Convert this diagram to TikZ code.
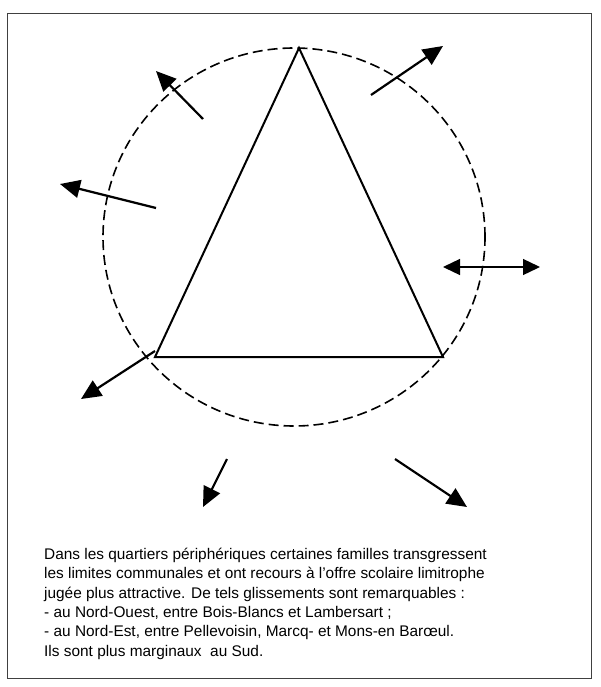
\documentclass[tikz,border=0pt]{standalone}
\usepackage{fontspec}
\setmainfont{Liberation Sans}
\usetikzlibrary{arrows.meta}
\begin{document}
\begin{tikzpicture}[x=1pt,y=-1pt,
  frame/.style={draw=black!75,line width=0.9pt},
  zone/.style={draw=black,line width=1.6pt,dash pattern=on 10pt off 5pt},
  tri/.style={draw=black,line width=2pt,line join=miter},
  flow/.style={draw=black,line width=2.2pt,-{Triangle[length=20pt,width=18pt]}},
  both/.style={draw=black,line width=1.3pt,{Triangle[length=17pt,width=16pt]}-{Triangle[length=17pt,width=16pt]}},
  txt/.style={anchor=base west,align=left,inner sep=0pt,font=\fontsize{15.4pt}{19.3pt}\selectfont}]
\useasboundingbox (0,0) rectangle (600,687);
\draw[frame] (7,13) rectangle (591,678);
% zone
\coordinate (c) at (294,237);
\draw[zone] (c) ellipse [x radius=191pt, y radius=189pt];
% triangle
\coordinate (A) at (299,48);
\coordinate (B) at (155,357);
\coordinate (C) at (443,357);
\draw[tri] (A) -- (B) -- (C) -- cycle;
% arrows
\coordinate (nw0) at (203,119); \coordinate (nw1) at (156,71);
\coordinate (w0) at (156,208);  \coordinate (w1) at (60,184);
\coordinate (ne0) at (371,95);  \coordinate (ne1) at (443,46);
\coordinate (sw0) at (155,351); \coordinate (sw1) at (81,399);
\coordinate (s0) at (227,459);  \coordinate (s1) at (203,507);
\coordinate (se0) at (395,459); \coordinate (se1) at (467,507);
\coordinate (e0) at (443,267);  \coordinate (e1) at (540,267);
\draw[flow] (nw0) -- (nw1);
\draw[flow] (w0) -- (w1);
\draw[flow] (ne0) -- (ne1);
\draw[flow] (sw0) -- (sw1);
\draw[flow] (s0) -- (s1);
\draw[flow] (se0) -- (se1);
\draw[both] (e0) -- (e1);
\node[txt] (t) at (44,656) {Dans les quartiers périphériques certaines familles transgressent\\
les limites communales et ont recours à l’offre scolaire limitrophe\\
jugée plus attractive. De tels glissements sont remarquables :\\
- au Nord-Ouest, entre Bois-Blancs et Lambersart ;\\
- au Nord-Est, entre Pellevoisin, Marcq- et Mons-en Barœul.\\
Ils sont plus marginaux\ \ au Sud.};
\end{tikzpicture}
\end{document}
